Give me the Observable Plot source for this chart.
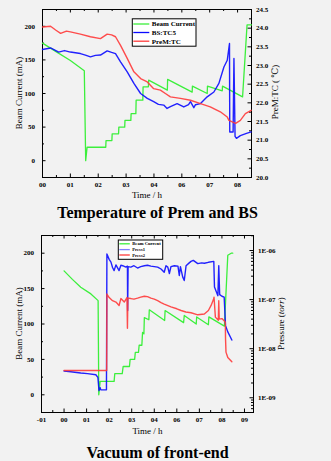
<!DOCTYPE html>
<html><head><meta charset="utf-8">
<script src="https://cdn.jsdelivr.net/npm/d3@7"></script>
<script src="https://cdn.jsdelivr.net/npm/@observablehq/plot@0.6"></script>
<style>
html,body{margin:0;padding:0;background:#f2f2f2;}
#wrap{position:relative;width:331px;height:461px;background:#f2f2f2;font-family:"Liberation Serif","DejaVu Serif",serif;overflow:hidden;}
.title{width:315px;text-align:center;font-weight:bold;font-size:16px;color:#000;white-space:nowrap;}
.overlay{position:absolute;left:0;top:0;pointer-events:none;}
svg{display:block;}
</style></head><body><div id="wrap"></div>
<script>
// ---------- DATA ----------
const xLabelsTop = ["00","01","02","03","04","06","07","08"];
const xLabelsBottom = ["-01","00","01","02","03","04","06","07","08","09"];
const beamTicks = [0,50,100,150,200];
const tempTicks = [20.0,20.5,21.0,21.5,22.0,22.5,23.0,23.5,24.0,24.5];
const tempTickLabels = ["20.0","20.5","21.0","21.5","22.0","22.5","23.0","23.5","24.0","24.5"];
const pressTicks = [1e-9,1e-8,1e-7,1e-6];
const pressTickLabels = ["1E-09","1E-08","1E-07","1E-06"];
const topSeries = ["Beam Current","BS:TC5","PreM:TC"];
const bottomSeries = ["Beam Current","Press1","Press2"];

// top panel: beam current (mA) vs time (h)
const topBeam = [[0,175],[0.5,162],[1.0,149],[1.5,134],[1.55,0],[1.6,20],[2.27,20],[2.28,30],[2.49,30],[2.5,40],[2.73,40],[2.74,50],[2.95,50],[2.96,60],[3.17,60],[3.18,70],[3.35,70],[3.36,90],[3.6,90],[3.61,110],[3.8,110],[3.81,120],[4.48,105],[4.49,121],[5.37,102],[5.38,111],[5.91,100],[5.92,111],[6.45,104],[6.46,111],[7.18,95],[7.34,202],[7.5,202]];
// top panel: BS:TC5 temperature (°C)
const topBS = [[0,23.43],[0.29,23.47],[0.58,23.36],[0.79,23.40],[1.0,23.36],[1.36,23.32],[1.54,23.28],[1.72,23.23],[1.9,23.27],[2.08,23.28],[2.32,23.39],[2.48,23.35],[2.62,23.32],[2.8,23.10],[3.04,22.83],[3.28,22.52],[3.52,22.25],[3.76,22.12],[3.99,22.03],[4.16,21.96],[4.35,21.94],[4.47,21.85],[4.59,21.90],[4.83,21.98],[5.07,21.89],[5.24,21.95],[5.31,22.03],[5.43,21.87],[5.49,21.95],[5.67,21.98],[5.91,22.16],[6.15,22.29],[6.33,22.52],[6.51,22.96],[6.63,23.14],[6.71,23.59],[6.72,21.22],[6.84,21.22],[6.87,23.19],[6.91,21.10],[6.96,21.05],[7.1,21.12],[7.32,21.18],[7.49,21.22]];
// top panel: PreM:TC temperature (°C)
const topPreM = [[0,24.03],[0.29,24.05],[0.47,23.95],[0.65,23.86],[0.86,23.92],[1.0,23.90],[1.36,23.84],[1.72,23.77],[2.08,23.72],[2.32,23.84],[2.48,23.82],[2.62,23.77],[2.8,23.54],[3.04,23.19],[3.28,22.83],[3.52,22.65],[3.76,22.56],[3.99,22.38],[4.23,22.34],[4.41,22.25],[4.59,22.16],[4.95,22.12],[5.31,22.07],[5.67,21.98],[6.02,21.89],[6.38,21.76],[6.63,21.62],[6.69,21.53],[6.93,21.45],[7.1,21.53],[7.28,21.71],[7.49,21.80]];

// bottom panel: beam current (mA)
const botBeam = [[0,175],[0.37,163],[0.74,152],[1.19,142.5],[1.51,133],[1.54,0],[1.6,19],[2.22,19],[2.25,30],[2.58,30],[2.62,40],[2.9,40],[2.93,50],[3.13,50],[3.16,60],[3.3,60],[3.33,70],[3.45,70],[3.48,88],[3.54,86],[3.56,109],[3.76,106],[3.78,120],[4.46,105],[4.48,119],[5.3,102],[5.33,112],[5.86,100],[5.88,110],[6.4,99],[6.42,110],[7.11,97],[7.26,197],[7.41,200],[7.48,200]];
// bottom panel: Press1 (torr)
const botP1 = [[0,3.5e-9],[0.3,3.4e-9],[0.74,3.2e-9],[1.04,3.1e-9],[1.41,2.95e-9],[1.5,2.6e-9],[1.55,1.4e-9],[1.6,1.6e-9],[1.63,1.45e-9],[1.88,1.45e-9],[1.9,8.5e-7],[2.0,6.6e-7],[2.08,5.8e-7],[2.15,4.5e-7],[2.22,3.9e-7],[2.3,5.1e-7],[2.44,3.9e-7],[2.52,5.0e-7],[2.6,4.9e-7],[2.74,4.6e-7],[2.81,4.8e-7],[2.82,6.0e-8],[2.84,4.7e-7],[2.96,4.6e-7],[3.1,4.9e-7],[3.26,4.4e-7],[3.4,4.7e-7],[3.56,4.9e-7],[3.7,5.0e-7],[3.85,4.8e-7],[4.0,4.7e-7],[4.15,4.6e-7],[4.3,4.2e-7],[4.44,3.6e-7],[4.52,4.9e-7],[4.6,4.6e-7],[4.67,3.4e-7],[4.74,4.7e-7],[4.89,4.9e-7],[5.05,4.8e-7],[5.11,3.1e-7],[5.16,4.7e-7],[5.26,2.9e-7],[5.33,2.45e-7],[5.41,4.9e-7],[5.55,5.6e-7],[5.63,6.0e-7],[5.73,6.3e-7],[5.93,5.4e-7],[6.1,5.6e-7],[6.22,5.5e-7],[6.4,5.75e-7],[6.64,6.0e-7],[6.67,1.8e-7],[6.82,1.2e-7],[6.86,4.9e-7],[6.9,1.26e-7],[7.0,1.17e-7],[7.1,1.12e-7],[7.16,2.95e-8],[7.26,2.2e-8],[7.44,1.5e-8]];
// bottom panel: Press2 (torr)
const botP2 = [[0,3.6e-9],[1.89,3.6e-9],[1.9,1.3e-7],[2.0,1.1e-7],[2.15,9.5e-8],[2.3,8.9e-8],[2.44,7.6e-8],[2.52,1.05e-7],[2.67,8.9e-8],[2.79,1.1e-7],[2.81,2.6e-8],[2.83,1.07e-7],[2.96,1.05e-7],[3.1,1.02e-7],[3.26,1.07e-7],[3.4,1.12e-7],[3.56,1.17e-7],[3.7,1.15e-7],[3.85,1.07e-7],[4.0,1.02e-7],[4.15,9.5e-8],[4.3,8.7e-8],[4.44,8.1e-8],[4.74,7.1e-8],[5.0,6.5e-8],[5.19,6.0e-8],[5.4,5.6e-8],[5.63,5.4e-8],[5.93,4.9e-8],[6.22,5.1e-8],[6.4,6.0e-8],[6.52,7.6e-8],[6.64,1.05e-7],[6.65,1.12e-7],[6.71,4.4e-8],[6.84,3.8e-8],[6.86,9.5e-8],[6.88,4.0e-8],[7.0,4.1e-8],[7.15,3.5e-8],[7.16,1.6e-8],[7.18,8.5e-9],[7.26,6.6e-9],[7.44,5.4e-9]];

// ---------- STYLE ----------
const GREEN = "#3cef3c", BLUE = "#0a0aff", RED = "#ff3a3a", BLUE_LEG = "#7f7fff";
const FONT = "Liberation Serif, DejaVu Serif, serif";

function panel(cfg) {
  const {W, H, mL, mR, mT, mB, xDomain, xMajor, xMinor, xLabels, xOff,
         yMinor, rMajor, rMinor, rLabels, r2l, series} = cfg;
  const fw = W - mL - mR, fh = H - mT - mB;
  const TL = 3.5, tl = 2;
  return Plot.plot({
    width: W, height: H, marginLeft: mL, marginRight: mR, marginTop: mT, marginBottom: mB,
    x: {domain: xDomain},
    y: {domain: [-25, 225]},
    style: {background: "transparent", fontFamily: FONT, fontSize: "7px", fontWeight: "bold", color: "#000", overflow: "visible"},
    marks: [
      Plot.frame({stroke: "#000", strokeWidth: 1}),
      Plot.tickX(xMajor, {x: d => d, insetTop: fh - TL, stroke: "#000"}),
      Plot.tickX(xMinor, {x: d => d, insetTop: fh - tl, stroke: "#000"}),
      Plot.tickX(xMajor, {x: d => d, insetBottom: fh - TL, stroke: "#000"}),
      Plot.tickX(xMinor, {x: d => d, insetBottom: fh - tl, stroke: "#000"}),
      Plot.tickY(beamTicks, {y: d => d, insetRight: fw - TL, stroke: "#000"}),
      Plot.tickY(yMinor, {y: d => d, insetRight: fw - tl, stroke: "#000"}),
      Plot.tickY(rMajor, {y: r2l, insetLeft: fw - TL, stroke: "#000"}),
      Plot.tickY(rMinor, {y: r2l, insetLeft: fw - tl, stroke: "#000"}),
      Plot.axisX({ticks: xMajor, tickFormat: d => xLabels[Math.round(d) + xOff], tickSize: 0, tickPadding: 4.5, label: null, fontWeight: "bold"}),
      Plot.axisY({ticks: beamTicks, tickSize: 0, tickPadding: 7.5, label: null, fontWeight: "bold"}),
      Plot.text(rMajor, {y: r2l, text: (d, i) => rLabels[i], frameAnchor: "right", textAnchor: "start", dx: 4.5, fontWeight: "bold", fontSize: 7}),
      Plot.line(series[0], {x: d => d[0], y: d => d[1], stroke: GREEN, strokeWidth: 1.3}),
      Plot.line(series[1], {x: d => d[0], y: d => r2l(d[1]), stroke: BLUE, strokeWidth: 1.4, strokeOpacity: 0.9}),
      Plot.line(series[2], {x: d => d[0], y: d => r2l(d[1]), stroke: RED, strokeWidth: 1.4, strokeOpacity: 0.9}),
      Plot.text(["Time / h"], {text: d => d, frameAnchor: "bottom", dy: cfg.timeDy, fontSize: 9, fontWeight: "normal"})
    ]
  });
}

const wrap = document.getElementById("wrap");
const T2L = d => -25 + (d - 20) / 4.5 * 250;
const P2L = p => -4.2 + (Math.log10(p) + 9) * 69.33;

const topChart = panel({
  W: 331, H: 203, mL: 42, mR: 80, mT: 9, mB: 26,
  xDomain: [0, 7.5], xMajor: [0,1,2,3,4,5,6,7], xMinor: [0.5,1.5,2.5,3.5,4.5,5.5,6.5],
  xLabels: xLabelsTop, xOff: 0,
  yMinor: [25,75,125,175],
  rMajor: tempTicks, rMinor: [20.25,20.75,21.25,21.75,22.25,22.75,23.25,23.75,24.25], rLabels: tempTickLabels,
  r2l: T2L, series: [topBeam, topBS, topPreM], timeDy: 20.5
});
wrap.appendChild(topChart);
const t1 = document.createElement("div");
t1.className = "title"; t1.style.height = "20px"; t1.style.lineHeight = "20px";
t1.textContent = "Temperature of Prem and BS";
wrap.appendChild(t1);

const logMinor = [];
[-10,-9,-8,-7,-6].forEach(e => { for (let k = 2; k <= 9; k++) { const v = k * Math.pow(10, e); const L = P2L(v); if (L > -25 && L < 225) logMinor.push(v); } });

const botChart = panel({
  W: 331, H: 222, mL: 41, mR: 78, mT: 12, mB: 33,
  xDomain: [-1, 8.4], xMajor: [-1,0,1,2,3,4,5,6,7,8], xMinor: [-0.5,0.5,1.5,2.5,3.5,4.5,5.5,6.5,7.5],
  xLabels: xLabelsBottom, xOff: 1,
  yMinor: [25,75,125,175],
  rMajor: pressTicks, rMinor: logMinor, rLabels: pressTickLabels,
  r2l: P2L, series: [botBeam, botP1, botP2], timeDy: 21
});
wrap.appendChild(botChart);
const t2 = document.createElement("div");
t2.className = "title"; t2.style.height = "16px"; t2.style.lineHeight = "16px";
t2.textContent = "Vacuum of front-end";
wrap.appendChild(t2);

// overlay: legends and rotated axis titles
function overlay(content) {
  const svg = document.createElementNS("http://www.w3.org/2000/svg", "svg");
  svg.setAttribute("width", 331); svg.setAttribute("height", 461);
  svg.setAttribute("class", "overlay");
  svg.innerHTML = content;
  wrap.appendChild(svg);
}
function legend(x, y, w, h, names, colors, rowsY, lineW, fs) {
  let s = `<rect x="${x}" y="${y}" width="${w}" height="${h}" fill="#fff" stroke="#000" stroke-width="1"/>`;
  names.forEach((n, i) => {
    s += `<line x1="${x + 1}" x2="${x + 1 + lineW}" y1="${rowsY[i]}" y2="${rowsY[i]}" stroke="${colors[i]}" stroke-width="1.3"/>`;
    s += `<text x="${x + lineW + 3.5}" y="${rowsY[i]}" dy="0.33em" font-family="${FONT}" font-weight="bold" font-size="${fs}">${n}</text>`;
  });
  return s;
}
function vtitle(x, y, txt) {
  return `<text transform="translate(${x},${y}) rotate(-90)" text-anchor="middle" dy="0.33em" font-family="${FONT}" font-size="9">${txt}</text>`;
}
overlay(
  legend(132.3, 18.8, 63.7, 27.4, topSeries, [GREEN, BLUE, RED], [24, 32.5, 41.2], 16, 7) +
  legend(118.3, 240, 44.4, 19.3, bottomSeries, [GREEN, BLUE_LEG, RED], [243.8, 249.6, 255], 10.5, 4.6) +
  vtitle(19, 93, "Beam Current (mA)") +
  vtitle(275, 92, "PreM:TC ( \u2103)") +
  vtitle(19, 323.5, "Beam Current (mA)") +
  vtitle(281.5, 323.5, "Pressure (<tspan font-style='italic'>torr</tspan>)")
);
</script></body></html>
